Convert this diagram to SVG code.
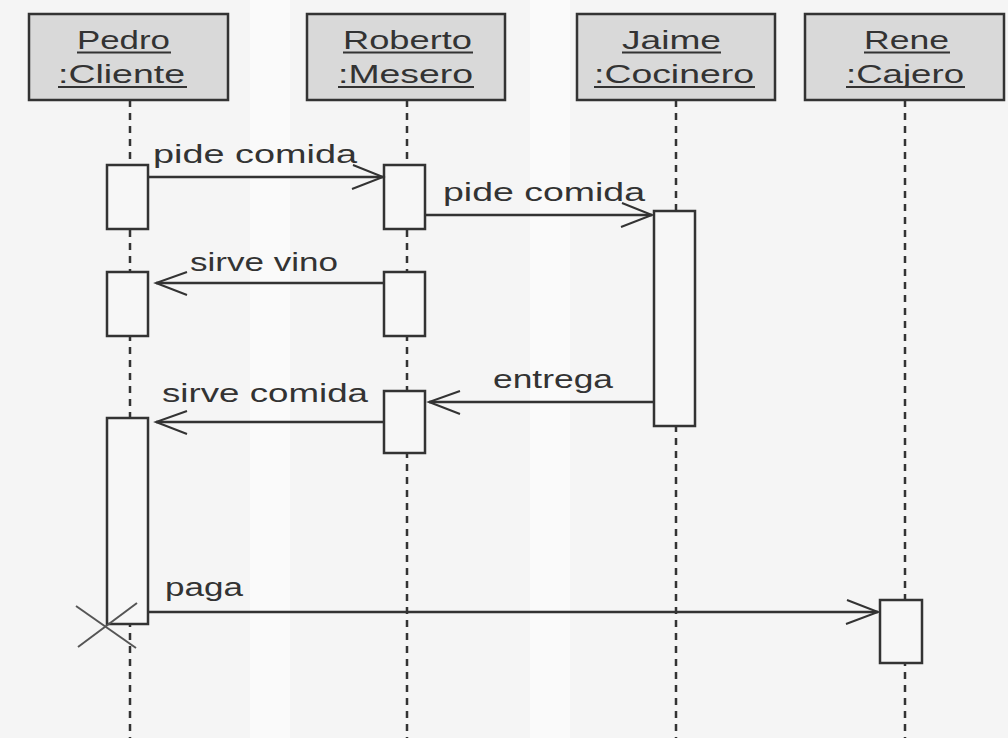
<svg xmlns="http://www.w3.org/2000/svg" width="1008" height="738" viewBox="0 0 1008 738">
<style>
.bg{fill:#f5f5f5}
.obj{fill:#d9d9d9;stroke:#333;stroke-width:2.5}
.act{fill:#f7f7f7;stroke:#333;stroke-width:2.5}
.life{stroke:#333;stroke-width:2.5;stroke-dasharray:7 6;fill:none}
.msg{stroke:#333;stroke-width:2.5;fill:none}
.head{stroke:#333;stroke-width:2;fill:none}
.t{font-family:"Liberation Sans",Arial,sans-serif;font-size:25px;fill:#333}
.ul{stroke:#333;stroke-width:2}
.x{stroke:#555;stroke-width:2}
</style>
<rect class="bg" x="0" y="0" width="1008" height="738"/>
<rect x="250" y="0" width="40" height="738" fill="#fafafa"/>
<rect x="530" y="0" width="40" height="738" fill="#fafafa"/>
<g id="lifelines">
<line class="life" x1="130" y1="100" x2="130" y2="738"/>
<line class="life" x1="407" y1="100" x2="407" y2="738"/>
<line class="life" x1="676" y1="100" x2="676" y2="738"/>
<line class="life" x1="905" y1="100" x2="905" y2="738"/>
</g>
<g id="pedro">
<rect class="obj" x="29" y="14" width="199" height="86"/>
<text class="t" x="77" y="49" textLength="93" lengthAdjust="spacingAndGlyphs">Pedro</text>
<line class="ul" x1="77" y1="52.5" x2="171" y2="52.5"/>
<text class="t" x="58" y="83" textLength="127" lengthAdjust="spacingAndGlyphs">:Cliente</text>
<line class="ul" x1="58" y1="87" x2="187" y2="87"/>
</g>
<g id="roberto">
<rect class="obj" x="307" y="14" width="198" height="86"/>
<text class="t" x="343" y="49" textLength="129" lengthAdjust="spacingAndGlyphs">Roberto</text>
<line class="ul" x1="343" y1="52.5" x2="473" y2="52.5"/>
<text class="t" x="338" y="83" textLength="135" lengthAdjust="spacingAndGlyphs">:Mesero</text>
<line class="ul" x1="338" y1="87" x2="474" y2="87"/>
</g>
<g id="jaime">
<rect class="obj" x="577" y="14" width="198" height="86"/>
<text class="t" x="622" y="49" textLength="99" lengthAdjust="spacingAndGlyphs">Jaime</text>
<line class="ul" x1="622" y1="52.5" x2="721" y2="52.5"/>
<text class="t" x="594" y="83" textLength="160" lengthAdjust="spacingAndGlyphs">:Cocinero</text>
<line class="ul" x1="594" y1="87" x2="755" y2="87"/>
</g>
<g id="rene">
<rect class="obj" x="805" y="14" width="199" height="86"/>
<text class="t" x="864" y="49" textLength="85" lengthAdjust="spacingAndGlyphs">Rene</text>
<line class="ul" x1="864" y1="52.5" x2="950" y2="52.5"/>
<text class="t" x="846" y="83" textLength="118" lengthAdjust="spacingAndGlyphs">:Cajero</text>
<line class="ul" x1="846" y1="87" x2="965" y2="87"/>
</g>
<g id="activations">
<rect class="act" x="107" y="165" width="41" height="64"/>
<rect class="act" x="384" y="165" width="41" height="64"/>
<rect class="act" x="654" y="211" width="41" height="215"/>
<rect class="act" x="107" y="272" width="41" height="64"/>
<rect class="act" x="384" y="272" width="41" height="64"/>
<rect class="act" x="384" y="391" width="41" height="62"/>
<rect class="act" x="107" y="418" width="41" height="206"/>
<rect class="act" x="880" y="600" width="42" height="63"/>
</g>
<g id="connectors">
<line class="msg" x1="148" y1="177" x2="383" y2="177"/>
<polyline class="head" points="353,165 383,177 352,189"/>
<line class="msg" x1="425" y1="215" x2="652" y2="215"/>
<polyline class="head" points="622,203 652,215 621,227"/>
<line class="msg" x1="384" y1="283" x2="156" y2="283"/>
<polyline class="head" points="187,272 156,283 187,295"/>
<line class="msg" x1="654" y1="402" x2="429" y2="402"/>
<polyline class="head" points="460,391 429,402 460,414"/>
<line class="msg" x1="384" y1="422" x2="156" y2="422"/>
<polyline class="head" points="187,411 156,422 187,434"/>
<line class="msg" x1="148" y1="612" x2="878" y2="612"/>
<polyline class="head" points="847,600 878,612 846,624"/>
</g>
<g id="labels">
<text class="t" x="153" y="163" textLength="204" lengthAdjust="spacingAndGlyphs">pide comida</text>
<text class="t" x="443" y="201" textLength="202" lengthAdjust="spacingAndGlyphs">pide comida</text>
<text class="t" x="190" y="271" textLength="148" lengthAdjust="spacingAndGlyphs">sirve vino</text>
<text class="t" x="493" y="388" textLength="120" lengthAdjust="spacingAndGlyphs">entrega</text>
<text class="t" x="162" y="402" textLength="206" lengthAdjust="spacingAndGlyphs">sirve comida</text>
<text class="t" x="165" y="596" textLength="78" lengthAdjust="spacingAndGlyphs">paga</text>
</g>
<g id="destroy">
<line class="x" x1="78" y1="647" x2="137" y2="603"/>
<line class="x" x1="76" y1="606" x2="136" y2="648"/>
</g>
</svg>
